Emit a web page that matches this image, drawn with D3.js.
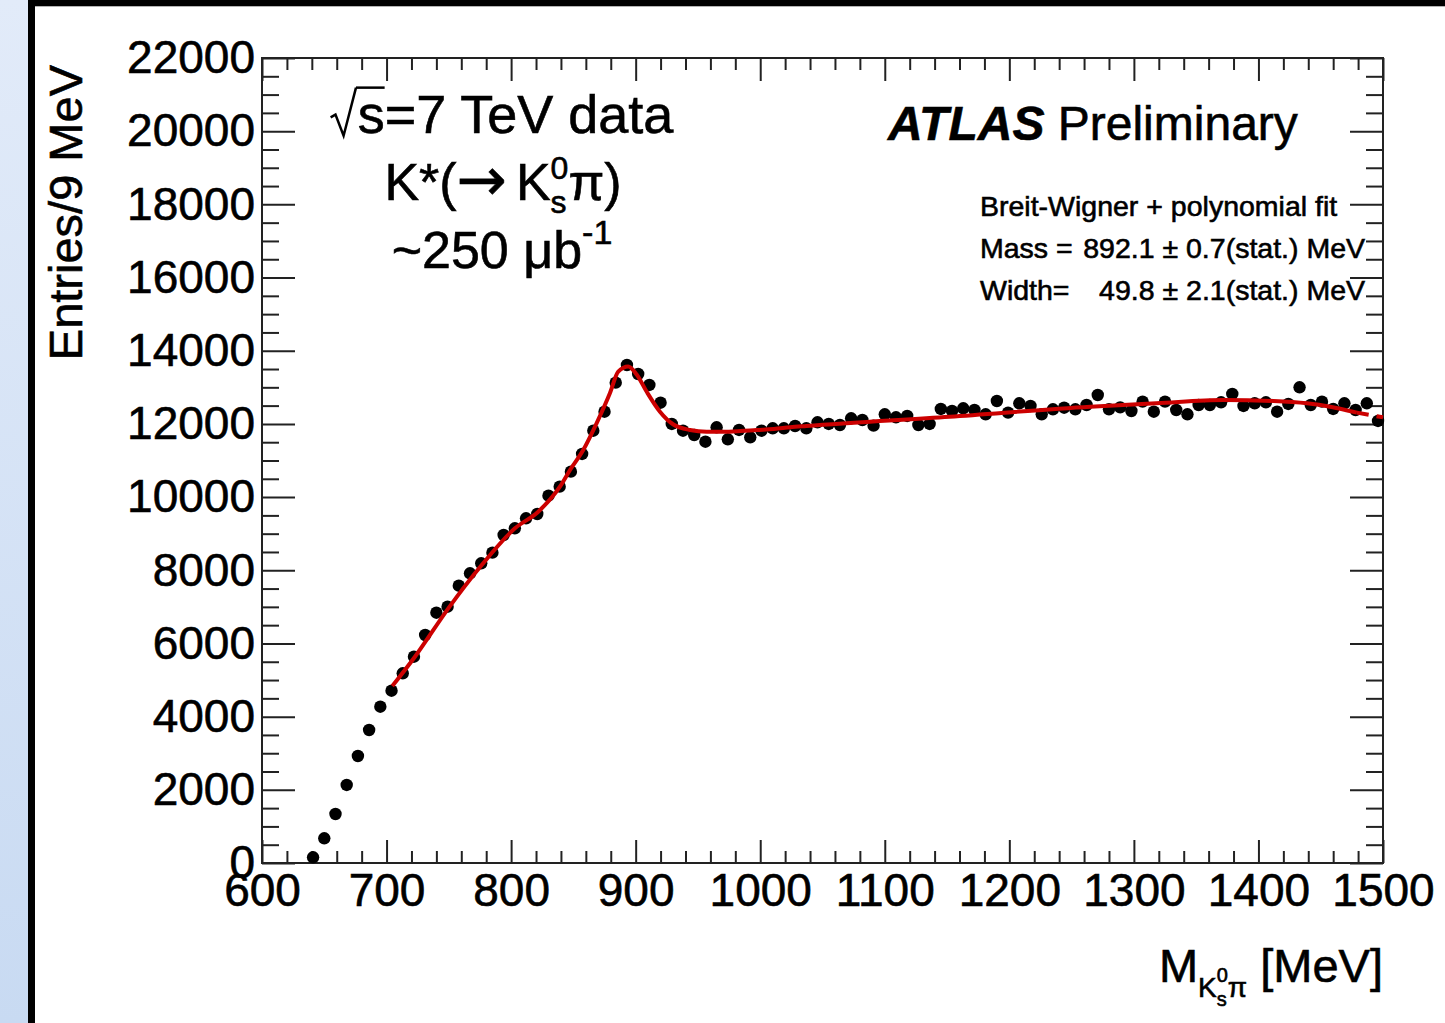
<!DOCTYPE html>
<html>
<head>
<meta charset="utf-8">
<script src="https://cdn.jsdelivr.net/npm/d3@7"></script>
<style>
  html, body { margin: 0; padding: 0; background: #fff; }
  svg { display: block; }
  text { font-family: "Liberation Sans", Arial, Helvetica, sans-serif; fill: #000; white-space: pre; stroke: #000; stroke-width: 0.6px; }
</style>
</head>
<body>
<svg id="chart" width="1445" height="1023"></svg>
<script>
// ---------------- data ----------------
const binCenters = [641,650,659,668,677,686,695,704,713,722,731,740,749,758,767,776,785,794,803,812,
  821,830,839,848,857,866,875,884,893,902,911,920,929,938,947,956,965,974,983,992,
  1001,1010,1019,1028,1037,1046,1055,1064,1073,1082,1091,1100,1109,1118,1127,1136,1145,1154,1163,1172,
  1181,1190,1199,1208,1217,1226,1235,1244,1253,1262,1271,1280,1289,1298,1307,1316,1325,1334,1343,1352,
  1361,1370,1379,1388,1397,1406,1415,1424,1433,1442,1451,1460,1469,1478,1487,1496];
const entries = [156,675,1339,2132,2924,3635,4272,4709,5184,5638,6231,6841,7005,7579,7918,8191,8481,8964,9147,9421,
  9538,10039,10285,10695,11178,11815,12334,13127,13610,13364,13064,12580,11998,11815,11697,11514,11907,11579,11834,11634,
  11815,11880,11880,11943,11880,12044,11998,11970,12154,12107,11952,12263,12181,12217,11970,11998,12408,12353,12427,12380,
  12263,12626,12308,12563,12490,12263,12399,12443,12399,12517,12790,12399,12453,12353,12608,12334,12608,12380,12263,12517,
  12517,12590,12818,12490,12563,12590,12334,12545,13001,12517,12608,12408,12563,12380,12563,12080];
// fit curve (Breit-Wigner + polynomial)
const fitMass  = [704.6,722.8,749.6,776.4,803.1,821.8,839.2,847.3,857.9,868.6,879.3,886,894,900.8,909,919.5,930,943.6,957,970,984,997,1011,1024,1037,1152,1265,1318,1372,1412,1439,1457.5,1479];
const fitValue = [4837,5638,6960,8144,9147,9601,10285,10741,11287,12017,12837,13427,13570,13350,12870,12334,11990,11834,11788,11788,11806,11834,11861,11907,11943,12198,12471,12563,12654,12626,12563,12471,12308];
const fitDashMass  = [1479,1500];
const fitDashValue = [12308,12180];
const xMajorTicks = [600,700,800,900,1000,1100,1200,1300,1400,1500];
const yMajorTicks = [0,2000,4000,6000,8000,10000,12000,14000,16000,18000,20000,22000];
const xDomain = [600,1500];
const yDomain = [0,22000];

// ---------------- layout ----------------
const svg = d3.select("#chart");
const L = 262, R = 1383, T = 58, B = 863;

const defs = svg.append("defs");
const grad = defs.append("linearGradient").attr("id","bg").attr("x1",0).attr("y1",0).attr("x2",0).attr("y2",1);
grad.append("stop").attr("offset","0%").attr("stop-color","#e2ebf9");
grad.append("stop").attr("offset","100%").attr("stop-color","#c8daf2");
svg.append("rect").attr("x",0).attr("y",0).attr("width",1445).attr("height",1023).attr("fill","url(#bg)");
svg.append("rect").attr("x",31.5).attr("y",2.8).attr("width",1500).attr("height",1100)
  .attr("fill","#fff").attr("stroke","#000").attr("stroke-width",7);

const x = d3.scaleLinear().domain(xDomain).range([L,R]);
const y = d3.scaleLinear().domain(yDomain).range([B,T]);

const xMinor = d3.range(600,1501,20).filter(v => v % 100 !== 0);
const yMinor = d3.range(0,22001,500).filter(v => v % 2000 !== 0);

function styleAxis(g){
  g.selectAll(".domain").remove();
  g.selectAll(".tick line").attr("stroke","#222").attr("stroke-width",2);
}
const FS = 46;
const gb = svg.append("g").attr("transform",`translate(0,${B})`)
  .call(d3.axisBottom(x).tickValues(xMajorTicks).tickSize(-23).tickPadding(10).tickFormat(d3.format("d")));
styleAxis(gb);
gb.selectAll(".tick text").attr("font-size",FS).style("font-family",'"Liberation Sans", Arial, sans-serif').attr("fill","#000");
svg.append("g").attr("transform",`translate(0,${B})`).call(d3.axisBottom(x).tickValues(xMinor).tickSize(-12).tickFormat("")).call(styleAxis);
svg.append("g").attr("transform",`translate(0,${T})`).call(d3.axisTop(x).tickValues(xMajorTicks).tickSize(-23).tickFormat("")).call(styleAxis);
svg.append("g").attr("transform",`translate(0,${T})`).call(d3.axisTop(x).tickValues(xMinor).tickSize(-12).tickFormat("")).call(styleAxis);
const gl = svg.append("g").attr("transform",`translate(${L},0)`)
  .call(d3.axisLeft(y).tickValues(yMajorTicks).tickSize(-33).tickPadding(7).tickFormat(d3.format("d")));
styleAxis(gl);
gl.selectAll(".tick text").attr("font-size",FS).style("font-family",'"Liberation Sans", Arial, sans-serif').attr("fill","#000");
svg.append("g").attr("transform",`translate(${L},0)`).call(d3.axisLeft(y).tickValues(yMinor).tickSize(-17).tickFormat("")).call(styleAxis);
svg.append("g").attr("transform",`translate(${R},0)`).call(d3.axisRight(y).tickValues(yMajorTicks).tickSize(-33).tickFormat("")).call(styleAxis);
svg.append("g").attr("transform",`translate(${R},0)`).call(d3.axisRight(y).tickValues(yMinor).tickSize(-17).tickFormat("")).call(styleAxis);
svg.append("rect").attr("x",L).attr("y",T).attr("width",R-L).attr("height",B-T)
  .attr("fill","none").attr("stroke","#222").attr("stroke-width",2);

// data points
svg.append("g").selectAll("circle").data(binCenters.map((m,i)=>[m,entries[i]]))
  .join("circle").attr("cx",d=>x(d[0])).attr("cy",d=>y(d[1])).attr("r",6.2).attr("fill","#000");

// fit line (drawn over the points)
const line = d3.line().x(d => x(d[0])).y(d => y(d[1])).curve(d3.curveMonotoneX);
svg.append("path").datum(fitMass.map((m,i)=>[m,fitValue[i]]))
  .attr("d",line).attr("fill","none").attr("stroke","#cc0000").attr("stroke-width",4);
svg.append("path").datum(fitDashMass.map((m,i)=>[m,fitDashValue[i]]))
  .attr("d",line).attr("fill","none").attr("stroke","#cc0000").attr("stroke-width",4).attr("stroke-dasharray","12,8");

// ---------------- text helpers ----------------
function rich(parent, x0, y0, pieces, anchor){
  const g = parent.append("g");
  let cx = 0;
  for (const p of pieces){
    if (p.stack){
      let w = 0;
      for (const q of p.stack){
        const t = g.append("text").attr("x",cx).attr("y",q.dy||0).attr("font-size",q.size).text(q.t);
        w = Math.max(w, t.node().getComputedTextLength());
      }
      cx += w + (p.gap||0);
    } else if (p.sqrt){
      const s = p.size;
      g.append("path").attr("d",`M${cx},${-0.29*s} L${cx+0.09*s},${-0.34*s} L${cx+0.24*s},${0.05*s} L${cx+0.47*s},${-0.84*s}`)
        .attr("fill","none").attr("stroke","#000").attr("stroke-width",2.5);
      const t = g.append("text").attr("x",cx+0.5*s).attr("y",0).attr("font-size",s).text(p.t);
      const w = t.node().getComputedTextLength();
      g.append("line").attr("x1",cx+0.47*s).attr("x2",cx+0.5*s+w).attr("y1",-0.84*s).attr("y2",-0.84*s)
        .attr("stroke","#000").attr("stroke-width",2.5);
      cx += 0.5*s + w;
    } else {
      const t = g.append("text").attr("x",cx).attr("y",p.dy||0).attr("font-size",p.size).text(p.t);
      if (p.bold) t.attr("font-weight","bold");
      if (p.italic) t.attr("font-style","italic");
      if (p.family) t.style("font-family",p.family);
      cx += t.node().getComputedTextLength() + (p.gap||0);
    }
  }
  const off = anchor === "middle" ? cx/2 : anchor === "end" ? cx : 0;
  g.attr("transform",`translate(${x0-off},${y0})`);
  return g;
}

// y title
svg.append("text").attr("transform","translate(82,65) rotate(-90)").attr("text-anchor","end")
  .attr("font-size",47).text("Entries/9 MeV");

// x title
rich(svg, 1383, 982, [
  {t:"M", size:47},
  {t:"K", size:28, dy:15},
  {stack:[{t:"s", size:20, dy:24},{t:"0", size:20, dy:0}]},
  {t:"π", size:28, dy:15},
  {t:" [MeV]", size:47}
], "end");

// annotations
rich(svg, 502, 133, [{sqrt:true, t:"s", size:54},{t:"=7 TeV data", size:54}], "middle");
rich(svg, 503, 200, [
  {t:"K*(", size:52},{t:"→", size:60, family:'"DejaVu Sans", sans-serif', gap:9},{t:"K", size:52},
  {stack:[{t:"s", size:32, dy:13},{t:"0", size:32, dy:-21}]},
  {t:"π)", size:52}
], "middle");
rich(svg, 502, 268, [{t:"~250 μb", size:52},{t:"-1", size:34, dy:-24}], "middle");

rich(svg, 888, 140, [{t:"ATLAS", size:48, bold:true, italic:true},{t:" Preliminary", size:48}], "start");

svg.append("text").attr("x",980).attr("y",216).attr("font-size",28.5).text("Breit-Wigner + polynomial fit");
svg.append("text").attr("x",980).attr("y",258).attr("font-size",28.5).text("Mass =");
svg.append("text").attr("x",1365).attr("y",258).attr("font-size",28.5).attr("text-anchor","end").text("892.1 ± 0.7(stat.) MeV");
svg.append("text").attr("x",980).attr("y",300).attr("font-size",28.5).text("Width=");
svg.append("text").attr("x",1365).attr("y",300).attr("font-size",28.5).attr("text-anchor","end").text("49.8 ± 2.1(stat.) MeV");
</script>
</body>
</html>
